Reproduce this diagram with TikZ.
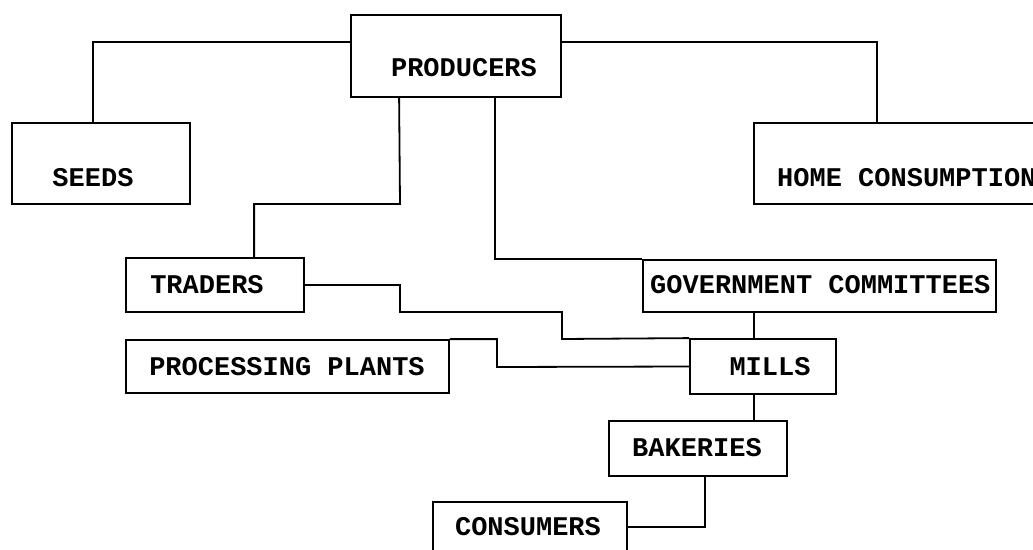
\documentclass[tikz,border=0pt]{standalone}
\usepackage{fontspec}
\setmonofont{Liberation Mono}
\begin{document}
\begin{tikzpicture}[x=1pt,y=-1pt,
  box/.style={draw, line width=1.8pt, rectangle, inner sep=0pt},
  lbl/.style={inner sep=0pt, font=\ttfamily\bfseries\fontsize{27}{30}\selectfont},
  conn/.style={line width=1.8pt}]
\useasboundingbox (0,0) rectangle (1033,549);
% boxes
\node[box, minimum width=210pt, minimum height=82pt] (prod) at (456,56) {};
\node[box, minimum width=178pt, minimum height=81pt] (seeds) at (101,163.5) {};
\node[box, minimum width=350pt, minimum height=81pt] (home) at (929,163.5) {};
\node[box, minimum width=178pt, minimum height=54pt] (traders) at (215,285) {};
\node[box, minimum width=353pt, minimum height=52pt] (gov) at (819.5,286) {};
\node[box, minimum width=323pt, minimum height=53pt] (pp) at (287.5,366.5) {};
\node[box, minimum width=146pt, minimum height=55pt] (mills) at (763,366.5) {};
\node[box, minimum width=178pt, minimum height=55pt] (bak) at (698,448.5) {};
\node[box, minimum width=194pt, minimum height=50pt] (cons) at (530,527) {};
% texts
\node[lbl] (prodt) at (464,68) {PRODUCERS};
\node[lbl] (seedst) at (93,178) {SEEDS};
\node[lbl, anchor=west] (homet) at (777,178) {HOME CONSUMPTION};
\node[lbl] (traderst) at (207,285) {TRADERS};
\node[lbl, anchor=west] (govt) at (650,285) {GOVERNMENT COMMITTEES};
\node[lbl] (ppt) at (287,367) {PROCESSING PLANTS};
\node[lbl] (millst) at (770,367) {MILLS};
\node[lbl] (bakt) at (697,448) {BAKERIES};
\node[lbl] (const) at (528,527) {CONSUMERS};
% connectors
\draw[conn] ([yshift=-28pt]prod.north west) -| ([xshift=-8pt]seeds.north);
\draw[conn] ([yshift=-28pt]prod.north east) -| ([xshift=124pt]home.north west);
\draw[conn] ([xshift=49pt]prod.south west) -- (400,204) -| ([xshift=129pt]traders.north west);
\draw[conn] ([xshift=145pt]prod.south west) |- (gov.north west);
\draw[conn] (traders.east) -| (400,312) -| (562,339) -- (mills.north west);
\draw[conn] (pp.north east) -| (497,367) -- (mills.west);
\draw[conn] ([xshift=-9pt]mills.north) -- ([xshift=-9pt]mills.north |- gov.south);
\draw[conn] ([xshift=-9pt]mills.south) -- ([xshift=-9pt]mills.south |- bak.north);
\draw[conn] ([xshift=7pt]bak.south) |- (cons.east);
\end{tikzpicture}
\end{document}
